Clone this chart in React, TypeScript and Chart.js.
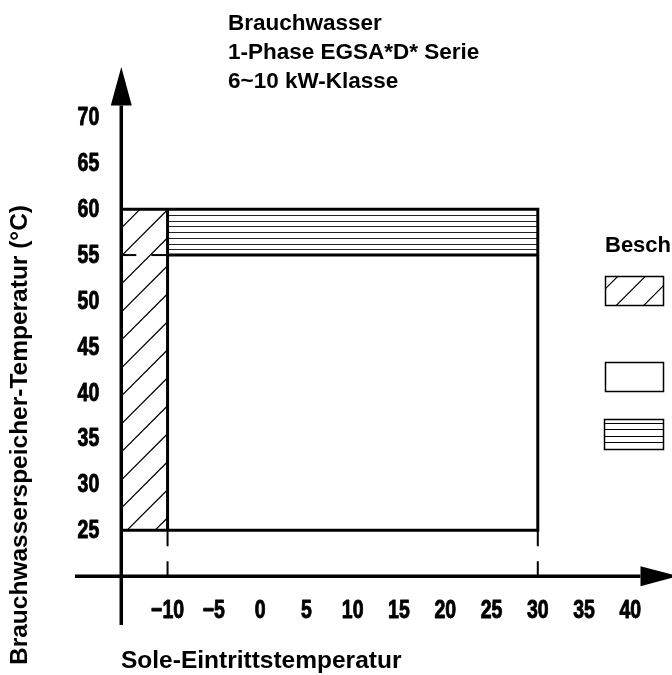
import React, { useEffect, useRef } from 'react';
import { Chart, registerables } from 'chart.js';

Chart.register(...registerables);

// ---- text ----
const titleLines = ['Brauchwasser', '1-Phase EGSA*D* Serie', '6~10 kW-Klasse'];
const xAxisTitle = 'Sole-Eintrittstemperatur';
const yAxisTitle = 'Brauchwasserspeicher-Temperatur (°C)';
const legendTitle = 'Beschreibung';

// ---- ticks ----
const xTicks = [-10, -5, 0, 5, 10, 15, 20, 25, 30, 35, 40];
const yTicks = [25, 30, 35, 40, 45, 50, 55, 60, 65, 70];

// ---- operating range (brine inlet °C / tank °C) ----
const brineRange = [-10, 30];
const tankRange = [25, 60];
const heatPumpMax = 55;
const axisOrigin = [-15, 20];
const xLimits = [-20, 44.5];
const yLimits = [15, 75.5];
const yArrowBase = 71.3;
const xArrowBase = 41.1;
const xArrowTip = 45.2;
const hatchLineCount = 7;

const TEXT_FONT = '"Liberation Sans", Arial, sans-serif';

const fmt = (v: number) => (v < 0 ? '\u2212' + Math.abs(v) : String(v));

export default function App() {
  const ref = useRef<HTMLCanvasElement>(null);

  useEffect(() => {
    if (!ref.current) return;
    const [bx0, bx1] = brineRange;
    const [ty0, ty1] = tankRange;
    const [ox, oy] = axisOrigin;

    const seg = (pts: number[][], extra: any = {}) => ({
      type: 'line',
      data: pts.map(([x, y]) => ({ x, y })),
      showLine: true,
      pointRadius: 0,
      borderColor: '#000',
      borderWidth: 3,
      borderCapStyle: 'butt',
      borderJoinStyle: 'miter',
      fill: false,
      clip: false,
      tension: 0,
      ...extra,
    });

    const datasets: any[] = [
      seg([[ox, ty1], [bx1, ty1], [bx1, ty0], [ox, ty0]]),
      seg([[bx0, ty0], [bx0, ty1]]),
      seg([[bx0, heatPumpMax], [bx1, heatPumpMax]]),
      seg([[ox, heatPumpMax], [bx0, heatPumpMax]], { borderWidth: 2, borderDash: [15, 15] }),
      seg([[bx0, ty0], [bx0, oy]], { borderWidth: 2, borderDash: [16, 15] }),
      seg([[bx1, ty0], [bx1, oy]], { borderWidth: 2, borderDash: [16, 15] }),
    ];

    const diagHatch = (ctx: CanvasRenderingContext2D, l: number, t: number, r: number, b: number, c0: number, step: number, lw: number) => {
      ctx.save();
      ctx.beginPath();
      ctx.rect(l, t, r - l, b - t);
      ctx.clip();
      ctx.strokeStyle = '#000';
      ctx.lineWidth = lw;
      ctx.beginPath();
      const cmin = l + t, cmax = r + b;
      let c = c0;
      while (c > cmin) c -= step;
      for (; c < cmax + step; c += step) {
        ctx.moveTo(l, c - l);
        ctx.lineTo(r, c - r);
      }
      ctx.stroke();
      ctx.restore();
    };

    const narrowText = (ctx: CanvasRenderingContext2D, s: string, x: number, y: number, align: CanvasTextAlign) => {
      ctx.save();
      ctx.translate(x, y);
      ctx.scale(0.78, 1);
      ctx.textAlign = align;
      ctx.lineWidth = 0.9;
      ctx.lineJoin = 'round';
      ctx.fillText(s, 0, 0);
      ctx.strokeText(s, 0, 0);
      ctx.restore();
    };

    const hatchPlugin = {
      id: 'hatch',
      beforeDatasetsDraw(chart: any) {
        const ctx = chart.ctx as CanvasRenderingContext2D;
        const xs = chart.scales.x, ys = chart.scales.y;
        // diagonal hatch: auxiliary heater region
        const l = xs.getPixelForValue(ox), r = xs.getPixelForValue(bx0);
        const t = ys.getPixelForValue(ty1), b = ys.getPixelForValue(ty0);
        diagHatch(ctx, l, t, r, b, 127 + b, 28, 1.2);
        // horizontal hatch between heatPumpMax and tank max
        ctx.save();
        ctx.strokeStyle = '#222';
        ctx.lineWidth = 1.2;
        ctx.beginPath();
        const hl = xs.getPixelForValue(bx0), hr = xs.getPixelForValue(bx1);
        for (let i = 1; i <= hatchLineCount; i++) {
          const v = heatPumpMax + (i * (ty1 - heatPumpMax)) / (hatchLineCount + 1);
          const y = Math.round(ys.getPixelForValue(v)) + 0.5;
          ctx.moveTo(hl, y);
          ctx.lineTo(hr, y);
        }
        ctx.stroke();
        ctx.restore();
      },
      afterDraw(chart: any) {
        const ctx = chart.ctx as CanvasRenderingContext2D;
        const xs = chart.scales.x, ys = chart.scales.y;
        const ax = xs.getPixelForValue(ox);
        const ay = ys.getPixelForValue(oy);
        ctx.save();
        ctx.strokeStyle = '#000';
        ctx.fillStyle = '#000';
        ctx.lineWidth = 3.5;
        ctx.lineCap = 'butt';
        // y axis
        const yb = ys.getPixelForValue(yArrowBase);
        ctx.beginPath();
        ctx.moveTo(ax, ys.getPixelForValue(yLimits[0]) + 3);
        ctx.lineTo(ax, yb);
        ctx.stroke();
        ctx.beginPath();
        ctx.moveTo(ax, ys.getPixelForValue(yLimits[1]));
        ctx.lineTo(ax - 10.5, yb);
        ctx.lineTo(ax + 10.5, yb);
        ctx.closePath();
        ctx.fill();
        // x axis
        const xb = xs.getPixelForValue(xArrowBase);
        ctx.beginPath();
        ctx.moveTo(xs.getPixelForValue(xLimits[0]), ay);
        ctx.lineTo(xb, ay);
        ctx.stroke();
        ctx.beginPath();
        ctx.moveTo(xs.getPixelForValue(xArrowTip), ay);
        ctx.lineTo(xb, ay - 10);
        ctx.lineTo(xb, ay + 10);
        ctx.closePath();
        ctx.fill();

        // tick labels (condensed bold)
        ctx.font = `bold 25px ${TEXT_FONT}`;
        ctx.textBaseline = 'middle';
        yTicks.forEach((v) => narrowText(ctx, fmt(v), ax - 22, ys.getPixelForValue(v) + 1, 'right'));
        xTicks.forEach((v) => narrowText(ctx, fmt(v), xs.getPixelForValue(v), ay + 35, 'center'));

        // titles
        ctx.textBaseline = 'alphabetic';
        ctx.textAlign = 'left';
        ctx.font = `bold 22.5px ${TEXT_FONT}`;
        titleLines.forEach((s, i) => ctx.fillText(s, 228, 30 + i * 29));
        ctx.font = `bold 24.5px ${TEXT_FONT}`;
        ctx.fillText(xAxisTitle, 121, 668);
        ctx.font = `bold 24.5px ${TEXT_FONT}`;
        ctx.save();
        ctx.translate(27, 665);
        ctx.rotate(-Math.PI / 2);
        ctx.fillText(yAxisTitle, 0, 0);
        ctx.restore();

        // legend
        ctx.font = `bold 22px ${TEXT_FONT}`;
        ctx.fillText(legendTitle, 605, 252);
        ctx.lineWidth = 1.5;
        ctx.strokeRect(605.5, 276.5, 58, 29);
        diagHatch(ctx, 605.5, 276.5, 663.5, 305.5, 921.7, 27.5, 1.2);
        ctx.strokeRect(605.5, 362.5, 58, 29);
        ctx.strokeRect(604.5, 419.5, 59, 30);
        ctx.lineWidth = 1.2;
        ctx.beginPath();
        [423.5, 429.5, 436.5, 442.5].forEach((y) => {
          ctx.moveTo(604.5, y);
          ctx.lineTo(663.5, y);
        });
        ctx.stroke();
        ctx.restore();
      },
    };

    const chart = new Chart(ref.current, {
      type: 'scatter',
      data: { datasets },
      options: {
        animation: false,
        responsive: false,
        devicePixelRatio: 1,
        layout: { padding: { left: 75, right: 0, top: 67, bottom: 53 } },
        plugins: { legend: { display: false }, tooltip: { enabled: false } },
        scales: {
          x: { type: 'linear', min: xLimits[0], max: xLimits[1], display: false },
          y: { type: 'linear', min: yLimits[0], max: yLimits[1], display: false },
        },
      },
      plugins: [hatchPlugin],
    } as any);
    return () => chart.destroy();
  }, []);

  return (
    <div style={{ position: 'absolute', left: 0, top: 0, width: 672, height: 675, background: '#fff' }}>
      <canvas ref={ref} width={672} height={675} />
    </div>
  );
}
